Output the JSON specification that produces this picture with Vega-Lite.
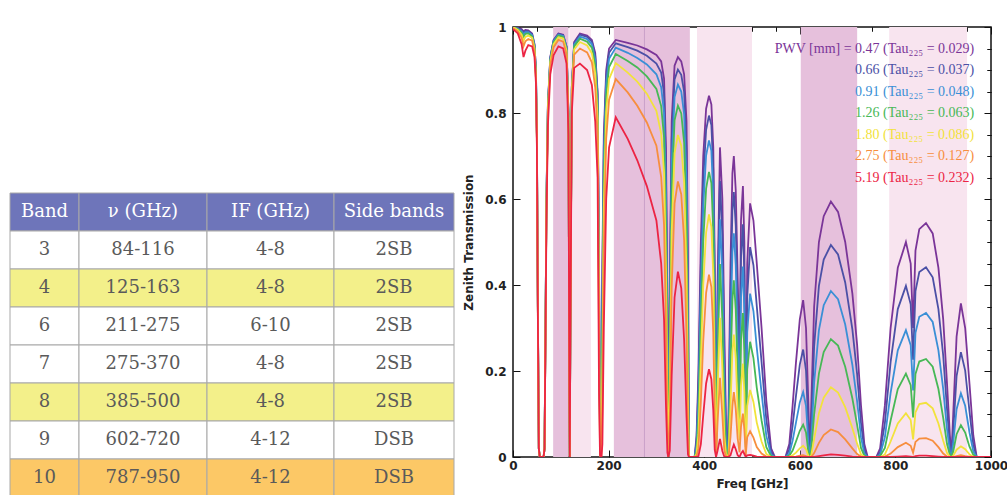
{
"$schema": "https://vega.github.io/schema/vega-lite/v6.json",
"background": "white",
"padding": {"left": 9, "top": 20, "right": 0, "bottom": 0},
"config": {"view": {"stroke": null}},
"resolve": {"scale": {"fill": "independent", "color": "independent"}},
"datasets": {
"table": [
{"row":"h","c1":"Band","c2":"ν  (GHz)","c3":"IF (GHz)","c4":"Side bands","kind":"head"},
{"row":"3","c1":"3","c2":"84-116","c3":"4-8","c4":"2SB","kind":"white"},
{"row":"4","c1":"4","c2":"125-163","c3":"4-8","c4":"2SB","kind":"yellow"},
{"row":"6","c1":"6","c2":"211-275","c3":"6-10","c4":"2SB","kind":"white"},
{"row":"7","c1":"7","c2":"275-370","c3":"4-8","c4":"2SB","kind":"white"},
{"row":"8","c1":"8","c2":"385-500","c3":"4-8","c4":"2SB","kind":"yellow"},
{"row":"9","c1":"9","c2":"602-720","c3":"4-12","c4":"DSB","kind":"white"},
{"row":"10","c1":"10","c2":"787-950","c3":"4-12","c4":"DSB","kind":"orange"}
],
"bands": [
{"a":84,"b":116,"k":"dark"},{"a":118,"b":163,"k":"light"},{"a":211,"b":275,"k":"dark"},{"a":275,"b":370,"k":"dark"},{"a":385,"b":500,"k":"light"},{"a":602,"b":720,"k":"dark"},{"a":787,"b":950,"k":"light"}
],
"legend": [
{"k":"a","label":"PWV [mm] = 0.47 (Tau₂₂₅ = 0.029)"},
{"k":"b","label":"0.66 (Tau₂₂₅ = 0.037)"},
{"k":"c","label":"0.91 (Tau₂₂₅ = 0.048)"},
{"k":"d","label":"1.26 (Tau₂₂₅ = 0.063)"},
{"k":"e","label":"1.80 (Tau₂₂₅ = 0.086)"},
{"k":"f","label":"2.75 (Tau₂₂₅ = 0.127)"},
{"k":"g","label":"5.19 (Tau₂₂₅ = 0.232)"}
],
"trans": [
{"v":0,"a":1,"b":1,"c":1,"d":1,"e":1,"f":0.998,"g":0.995},
{"v":10,"a":0.998,"b":0.997,"c":0.996,"d":0.995,"e":0.993,"f":0.99,"g":0.985},
{"v":18,"a":0.995,"b":0.993,"c":0.99,"d":0.987,"e":0.982,"f":0.975,"g":0.96},
{"v":22,"a":0.99,"b":0.987,"c":0.983,"d":0.977,"e":0.968,"f":0.955,"g":0.93},
{"v":26,"a":0.993,"b":0.991,"c":0.988,"d":0.984,"e":0.977,"f":0.967,"g":0.945},
{"v":32,"a":0.992,"b":0.99,"c":0.988,"d":0.985,"e":0.98,"f":0.972,"g":0.958},
{"v":40,"a":0.985,"b":0.983,"c":0.981,"d":0.978,"e":0.975,"f":0.968,"g":0.955},
{"v":45,"a":0.96,"b":0.958,"c":0.956,"d":0.953,"e":0.95,"f":0.943,"g":0.93},
{"v":48,"a":0.9,"b":0.9,"c":0.89,"d":0.89,"e":0.88,"f":0.88,"g":0.87},
{"v":50,"a":0.75,"b":0.75,"c":0.74,"d":0.74,"e":0.74,"f":0.73,"g":0.72},
{"v":52,"a":0.35,"b":0.35,"c":0.35,"d":0.34,"e":0.34,"f":0.34,"g":0.33},
{"v":54,"a":0.02,"b":0.02,"c":0.02,"d":0.02,"e":0.02,"f":0.02,"g":0.02},
{"v":56,"a":0,"b":0,"c":0,"d":0,"e":0,"f":0,"g":0},
{"v":64,"a":0,"b":0,"c":0,"d":0,"e":0,"f":0,"g":0},
{"v":66,"a":0.02,"b":0.02,"c":0.02,"d":0.02,"e":0.02,"f":0.02,"g":0.02},
{"v":68,"a":0.3,"b":0.3,"c":0.3,"d":0.3,"e":0.29,"f":0.29,"g":0.28},
{"v":70,"a":0.6,"b":0.598,"c":0.595,"d":0.591,"e":0.585,"f":0.575,"g":0.55},
{"v":73,"a":0.82,"b":0.818,"c":0.815,"d":0.811,"e":0.806,"f":0.795,"g":0.77},
{"v":78,"a":0.93,"b":0.928,"c":0.926,"d":0.923,"e":0.919,"f":0.91,"g":0.89},
{"v":85,"a":0.97,"b":0.969,"c":0.967,"d":0.964,"e":0.96,"f":0.953,"g":0.935},
{"v":95,"a":0.985,"b":0.984,"c":0.982,"d":0.98,"e":0.976,"f":0.97,"g":0.955},
{"v":105,"a":0.982,"b":0.981,"c":0.979,"d":0.977,"e":0.973,"f":0.966,"g":0.95},
{"v":112,"a":0.955,"b":0.954,"c":0.952,"d":0.949,"e":0.945,"f":0.937,"g":0.915},
{"v":116,"a":0.8,"b":0.799,"c":0.797,"d":0.794,"e":0.789,"f":0.78,"g":0.75},
{"v":118,"a":0.15,"b":0.15,"c":0.149,"d":0.148,"e":0.147,"f":0.145,"g":0.14},
{"v":118.75,"a":0,"b":0,"c":0,"d":0,"e":0,"f":0,"g":0},
{"v":120,"a":0.3,"b":0.3,"c":0.298,"d":0.297,"e":0.294,"f":0.29,"g":0.28},
{"v":123,"a":0.86,"b":0.859,"c":0.856,"d":0.853,"e":0.848,"f":0.838,"g":0.8},
{"v":128,"a":0.965,"b":0.962,"c":0.959,"d":0.955,"e":0.948,"f":0.936,"g":0.905},
{"v":140,"a":0.985,"b":0.982,"c":0.978,"d":0.973,"e":0.965,"f":0.95,"g":0.915},
{"v":155,"a":0.98,"b":0.977,"c":0.972,"d":0.966,"e":0.957,"f":0.941,"g":0.9},
{"v":165,"a":0.97,"b":0.966,"c":0.96,"d":0.952,"e":0.939,"f":0.918,"g":0.865},
{"v":172,"a":0.94,"b":0.933,"c":0.924,"d":0.911,"e":0.892,"f":0.859,"g":0.78},
{"v":177,"a":0.85,"b":0.841,"c":0.829,"d":0.813,"e":0.788,"f":0.747,"g":0.65},
{"v":180,"a":0.45,"b":0.431,"c":0.406,"d":0.374,"e":0.33,"f":0.265,"g":0.15},
{"v":182,"a":0.08,"b":0.066,"c":0.052,"d":0.038,"e":0.024,"f":0.012,"g":0.005},
{"v":183.3,"a":0,"b":0,"c":0,"d":0,"e":0,"f":0,"g":0},
{"v":185,"a":0.15,"b":0.11,"c":0.07,"d":0.04,"e":0.015,"f":0.003,"g":0},
{"v":187,"a":0.45,"b":0.404,"c":0.35,"d":0.286,"e":0.21,"f":0.122,"g":0.03},
{"v":190,"a":0.75,"b":0.723,"c":0.689,"d":0.644,"e":0.58,"f":0.482,"g":0.3},
{"v":195,"a":0.9,"b":0.886,"c":0.867,"d":0.841,"e":0.803,"f":0.74,"g":0.6},
{"v":201,"a":0.95,"b":0.94,"c":0.926,"d":0.907,"e":0.879,"f":0.831,"g":0.72},
{"v":215,"a":0.97,"b":0.962,"c":0.952,"d":0.937,"e":0.916,"f":0.879,"g":0.79},
{"v":240,"a":0.963,"b":0.953,"c":0.94,"d":0.921,"e":0.894,"f":0.848,"g":0.74},
{"v":260,"a":0.957,"b":0.945,"c":0.928,"d":0.906,"e":0.873,"f":0.817,"g":0.69},
{"v":280,"a":0.948,"b":0.933,"c":0.913,"d":0.885,"e":0.845,"f":0.778,"g":0.63},
{"v":300,"a":0.935,"b":0.915,"c":0.89,"d":0.856,"e":0.805,"f":0.724,"g":0.55},
{"v":310,"a":0.92,"b":0.894,"c":0.86,"d":0.816,"e":0.752,"f":0.651,"g":0.45},
{"v":316,"a":0.88,"b":0.845,"c":0.801,"d":0.743,"e":0.662,"f":0.539,"g":0.32},
{"v":320,"a":0.72,"b":0.67,"c":0.609,"d":0.533,"e":0.435,"f":0.303,"g":0.12},
{"v":323,"a":0.35,"b":0.303,"c":0.251,"d":0.193,"e":0.129,"f":0.063,"g":0.01},
{"v":325,"a":0,"b":0,"c":0,"d":0,"e":0,"f":0,"g":0},
{"v":328,"a":0.4,"b":0.35,"c":0.294,"d":0.23,"e":0.158,"f":0.081,"g":0.015},
{"v":332,"a":0.78,"b":0.737,"c":0.683,"d":0.615,"e":0.523,"f":0.394,"g":0.19},
{"v":338,"a":0.91,"b":0.878,"c":0.837,"d":0.783,"e":0.707,"f":0.59,"g":0.371},
{"v":345,"a":0.93,"b":0.901,"c":0.866,"d":0.817,"e":0.749,"f":0.641,"g":0.431},
{"v":352,"a":0.92,"b":0.889,"c":0.85,"d":0.799,"e":0.724,"f":0.611,"g":0.393},
{"v":358,"a":0.89,"b":0.849,"c":0.797,"d":0.731,"e":0.638,"f":0.504,"g":0.273},
{"v":363,"a":0.78,"b":0.716,"c":0.64,"d":0.547,"e":0.429,"f":0.279,"g":0.094},
{"v":366,"a":0.45,"b":0.379,"c":0.303,"d":0.221,"e":0.136,"f":0.058,"g":0.006},
{"v":368,"a":0,"b":0,"c":0,"d":0,"e":0,"f":0,"g":0},
{"v":380,"a":0,"b":0,"c":0,"d":0,"e":0,"f":0,"g":0},
{"v":384,"a":0.05,"b":0.038,"c":0.026,"d":0.015,"e":0.007,"f":0.002,"g":0},
{"v":388,"a":0.2,"b":0.165,"c":0.129,"d":0.091,"e":0.053,"f":0.02,"g":0.002},
{"v":393,"a":0.5,"b":0.446,"c":0.384,"d":0.312,"e":0.225,"f":0.128,"g":0.03},
{"v":398,"a":0.7,"b":0.646,"c":0.582,"d":0.502,"e":0.4,"f":0.269,"g":0.097},
{"v":404,"a":0.81,"b":0.761,"c":0.701,"d":0.624,"e":0.522,"f":0.382,"g":0.171},
{"v":410,"a":0.84,"b":0.794,"c":0.736,"d":0.663,"e":0.564,"f":0.424,"g":0.204},
{"v":415,"a":0.82,"b":0.772,"c":0.712,"d":0.637,"e":0.535,"f":0.395,"g":0.181},
{"v":419,"a":0.72,"b":0.667,"c":0.604,"d":0.525,"e":0.423,"f":0.289,"g":0.109},
{"v":422,"a":0.45,"b":0.394,"c":0.331,"d":0.259,"e":0.177,"f":0.091,"g":0.017},
{"v":424.8,"a":0,"b":0,"c":0,"d":0,"e":0,"f":0,"g":0},
{"v":428,"a":0.4,"b":0.35,"c":0.294,"d":0.23,"e":0.158,"f":0.081,"g":0.015},
{"v":433,"a":0.72,"b":0.642,"c":0.553,"d":0.449,"e":0.324,"f":0.184,"g":0.042},
{"v":438,"a":0.6,"b":0.515,"c":0.422,"d":0.319,"e":0.207,"f":0.097,"g":0.014},
{"v":442,"a":0.3,"b":0.234,"c":0.169,"d":0.107,"e":0.053,"f":0.016,"g":0.001},
{"v":446,"a":0.05,"b":0.028,"c":0.013,"d":0.005,"e":0.001,"f":0,"g":0},
{"v":448,"a":0,"b":0,"c":0,"d":0,"e":0,"f":0,"g":0},
{"v":451,"a":0.1,"b":0.068,"c":0.042,"d":0.021,"e":0.007,"f":0.001,"g":0},
{"v":455,"a":0.45,"b":0.372,"c":0.29,"d":0.204,"e":0.119,"f":0.046,"g":0.004},
{"v":459,"a":0.66,"b":0.572,"c":0.475,"d":0.365,"e":0.244,"f":0.119,"g":0.019},
{"v":462,"a":0.7,"b":0.616,"c":0.52,"d":0.411,"e":0.285,"f":0.151,"g":0.029},
{"v":466,"a":0.62,"b":0.538,"c":0.446,"d":0.343,"e":0.229,"f":0.112,"g":0.018},
{"v":470,"a":0.42,"b":0.347,"c":0.27,"d":0.191,"e":0.111,"f":0.043,"g":0.004},
{"v":474,"a":0.22,"b":0.172,"c":0.124,"d":0.079,"e":0.039,"f":0.011,"g":0},
{"v":477,"a":0.55,"b":0.464,"c":0.37,"d":0.27,"e":0.166,"f":0.07,"g":0.008},
{"v":481,"a":0.63,"b":0.541,"c":0.443,"d":0.335,"e":0.217,"f":0.101,"g":0.014},
{"v":484,"a":0.5,"b":0.422,"c":0.337,"d":0.246,"e":0.151,"f":0.064,"g":0.007},
{"v":487,"a":0.05,"b":0.041,"c":0.032,"d":0.023,"e":0.013,"f":0.005,"g":0},
{"v":490,"a":0.45,"b":0.372,"c":0.29,"d":0.204,"e":0.119,"f":0.046,"g":0.004},
{"v":496,"a":0.59,"b":0.488,"c":0.38,"d":0.268,"e":0.156,"f":0.06,"g":0.005},
{"v":503,"a":0.55,"b":0.446,"c":0.339,"d":0.23,"e":0.128,"f":0.045,"g":0.003},
{"v":510,"a":0.45,"b":0.351,"c":0.254,"d":0.161,"e":0.08,"f":0.023,"g":0.001},
{"v":520,"a":0.3,"b":0.221,"c":0.149,"d":0.085,"e":0.036,"f":0.008,"g":0},
{"v":530,"a":0.13,"b":0.086,"c":0.049,"d":0.023,"e":0.007,"f":0.001,"g":0},
{"v":540,"a":0.02,"b":0.011,"c":0.005,"d":0.002,"e":0,"f":0,"g":0},
{"v":548,"a":0,"b":0,"c":0,"d":0,"e":0,"f":0,"g":0},
{"v":570,"a":0,"b":0,"c":0,"d":0,"e":0,"f":0,"g":0},
{"v":578,"a":0.03,"b":0.017,"c":0.008,"d":0.003,"e":0.001,"f":0,"g":0},
{"v":585,"a":0.12,"b":0.073,"c":0.038,"d":0.015,"e":0.004,"f":0,"g":0},
{"v":592,"a":0.22,"b":0.142,"c":0.08,"d":0.036,"e":0.01,"f":0.001,"g":0},
{"v":600,"a":0.32,"b":0.215,"c":0.127,"d":0.061,"e":0.02,"f":0.003,"g":0},
{"v":607,"a":0.365,"b":0.25,"c":0.151,"d":0.075,"e":0.026,"f":0.004,"g":0},
{"v":613,"a":0.3,"b":0.201,"c":0.119,"d":0.057,"e":0.018,"f":0.002,"g":0},
{"v":618,"a":0.12,"b":0.068,"c":0.032,"d":0.011,"e":0.002,"f":0,"g":0},
{"v":621,"a":0,"b":0,"c":0,"d":0,"e":0,"f":0,"g":0},
{"v":624,"a":0.12,"b":0.075,"c":0.04,"d":0.017,"e":0.004,"f":0,"g":0},
{"v":630,"a":0.35,"b":0.258,"c":0.173,"d":0.099,"e":0.042,"f":0.009,"g":0},
{"v":640,"a":0.5,"b":0.398,"c":0.295,"d":0.194,"e":0.102,"f":0.033,"g":0.002},
{"v":650,"a":0.56,"b":0.459,"c":0.353,"d":0.244,"e":0.138,"f":0.051,"g":0.004},
{"v":665,"a":0.594,"b":0.493,"c":0.386,"d":0.274,"e":0.162,"f":0.064,"g":0.006},
{"v":680,"a":0.57,"b":0.471,"c":0.367,"d":0.259,"e":0.15,"f":0.058,"g":0.005},
{"v":695,"a":0.5,"b":0.406,"c":0.308,"d":0.21,"e":0.116,"f":0.041,"g":0.003},
{"v":710,"a":0.38,"b":0.297,"c":0.214,"d":0.136,"e":0.067,"f":0.02,"g":0.001},
{"v":720,"a":0.26,"b":0.192,"c":0.129,"d":0.074,"e":0.031,"f":0.007,"g":0},
{"v":728,"a":0.12,"b":0.079,"c":0.046,"d":0.021,"e":0.006,"f":0.001,"g":0},
{"v":735,"a":0.03,"b":0.017,"c":0.008,"d":0.003,"e":0.001,"f":0,"g":0},
{"v":742,"a":0,"b":0,"c":0,"d":0,"e":0,"f":0,"g":0},
{"v":760,"a":0,"b":0,"c":0,"d":0,"e":0,"f":0,"g":0},
{"v":768,"a":0.02,"b":0.011,"c":0.005,"d":0.002,"e":0,"f":0,"g":0},
{"v":778,"a":0.12,"b":0.079,"c":0.046,"d":0.021,"e":0.006,"f":0.001,"g":0},
{"v":790,"a":0.3,"b":0.221,"c":0.149,"d":0.085,"e":0.036,"f":0.008,"g":0},
{"v":805,"a":0.44,"b":0.344,"c":0.248,"d":0.158,"e":0.078,"f":0.023,"g":0.001},
{"v":822,"a":0.5,"b":0.398,"c":0.295,"d":0.194,"e":0.102,"f":0.033,"g":0.002},
{"v":832,"a":0.45,"b":0.355,"c":0.26,"d":0.167,"e":0.086,"f":0.026,"g":0.001},
{"v":837,"a":0.3,"b":0.226,"c":0.155,"d":0.092,"e":0.041,"f":0.01,"g":0},
{"v":842,"a":0.48,"b":0.386,"c":0.289,"d":0.193,"e":0.104,"f":0.035,"g":0.002},
{"v":850,"a":0.53,"b":0.43,"c":0.326,"d":0.222,"e":0.123,"f":0.043,"g":0.003},
{"v":864,"a":0.544,"b":0.441,"c":0.335,"d":0.228,"e":0.126,"f":0.044,"g":0.003},
{"v":878,"a":0.52,"b":0.418,"c":0.314,"d":0.21,"e":0.113,"f":0.038,"g":0.002},
{"v":890,"a":0.44,"b":0.344,"c":0.248,"d":0.158,"e":0.078,"f":0.023,"g":0.001},
{"v":900,"a":0.32,"b":0.236,"c":0.158,"d":0.091,"e":0.038,"f":0.008,"g":0},
{"v":908,"a":0.17,"b":0.112,"c":0.065,"d":0.03,"e":0.009,"f":0.001,"g":0},
{"v":914,"a":0.05,"b":0.028,"c":0.013,"d":0.005,"e":0.001,"f":0,"g":0},
{"v":917,"a":0,"b":0,"c":0,"d":0,"e":0,"f":0,"g":0},
{"v":921,"a":0.1,"b":0.061,"c":0.032,"d":0.013,"e":0.003,"f":0,"g":0},
{"v":928,"a":0.28,"b":0.188,"c":0.111,"d":0.053,"e":0.017,"f":0.002,"g":0},
{"v":937,"a":0.357,"b":0.244,"c":0.148,"d":0.074,"e":0.025,"f":0.004,"g":0},
{"v":946,"a":0.3,"b":0.201,"c":0.119,"d":0.057,"e":0.018,"f":0.002,"g":0},
{"v":955,"a":0.17,"b":0.106,"c":0.057,"d":0.024,"e":0.006,"f":0.001,"g":0},
{"v":963,"a":0.05,"b":0.028,"c":0.013,"d":0.005,"e":0.001,"f":0,"g":0},
{"v":970,"a":0,"b":0,"c":0,"d":0,"e":0,"f":0,"g":0},
{"v":1000,"a":0,"b":0,"c":0,"d":0,"e":0,"f":0,"g":0}
]
},
"spacing": 6,
"hconcat": [
{
"spacing": 0,
"bounds": "flush",
"resolve": {"scale": {"fill": "shared"}},
"hconcat": [
{"width": 69, "height": 470, "data": {"name": "table"},
 "layer": [
  {"mark": {"type": "rect", "stroke": "#a8a8a8", "strokeWidth": 1},
   "encoding": {"y": {"field": "row", "type": "nominal", "scale": {"domain": ["h","3","4","6","7","8","9","10"], "range": [166, 470], "paddingInner": 0, "paddingOuter": 0}, "axis": null},
    "x": {"value": 0}, "x2": {"value": "width"},
    "fill": {"field": "kind", "type": "nominal", "scale": {"domain": ["head","white","yellow","orange"], "range": ["#6e75ba","#ffffff","#f3f08a","#fcc866"]}, "legend": null}}},
  {"mark": {"type": "text", "font": "DejaVu Serif", "fontSize": 18, "baseline": "middle"},
   "encoding": {"y": {"field": "row", "type": "nominal", "axis": null}, "text": {"field": "c1"},
    "color": {"condition": {"test": "datum.kind === 'head'", "value": "#ffffff"}, "value": "#5a5a5a"}}}
 ]},
{"width": 128, "height": 470, "data": {"name": "table"},
 "layer": [
  {"mark": {"type": "rect", "stroke": "#a8a8a8", "strokeWidth": 1},
   "encoding": {"y": {"field": "row", "type": "nominal", "scale": {"domain": ["h","3","4","6","7","8","9","10"], "range": [166, 470], "paddingInner": 0, "paddingOuter": 0}, "axis": null},
    "x": {"value": 0}, "x2": {"value": "width"},
    "fill": {"field": "kind", "type": "nominal", "scale": {"domain": ["head","white","yellow","orange"], "range": ["#6e75ba","#ffffff","#f3f08a","#fcc866"]}, "legend": null}}},
  {"mark": {"type": "text", "font": "DejaVu Serif", "fontSize": 18, "baseline": "middle"},
   "encoding": {"y": {"field": "row", "type": "nominal", "axis": null}, "text": {"field": "c2"},
    "color": {"condition": {"test": "datum.kind === 'head'", "value": "#ffffff"}, "value": "#5a5a5a"}}}
 ]},
{"width": 127, "height": 470, "data": {"name": "table"},
 "layer": [
  {"mark": {"type": "rect", "stroke": "#a8a8a8", "strokeWidth": 1},
   "encoding": {"y": {"field": "row", "type": "nominal", "scale": {"domain": ["h","3","4","6","7","8","9","10"], "range": [166, 470], "paddingInner": 0, "paddingOuter": 0}, "axis": null},
    "x": {"value": 0}, "x2": {"value": "width"},
    "fill": {"field": "kind", "type": "nominal", "scale": {"domain": ["head","white","yellow","orange"], "range": ["#6e75ba","#ffffff","#f3f08a","#fcc866"]}, "legend": null}}},
  {"mark": {"type": "text", "font": "DejaVu Serif", "fontSize": 18, "baseline": "middle"},
   "encoding": {"y": {"field": "row", "type": "nominal", "axis": null}, "text": {"field": "c3"},
    "color": {"condition": {"test": "datum.kind === 'head'", "value": "#ffffff"}, "value": "#5a5a5a"}}}
 ]},
{"width": 120, "height": 470, "data": {"name": "table"},
 "layer": [
  {"mark": {"type": "rect", "stroke": "#a8a8a8", "strokeWidth": 1},
   "encoding": {"y": {"field": "row", "type": "nominal", "scale": {"domain": ["h","3","4","6","7","8","9","10"], "range": [166, 470], "paddingInner": 0, "paddingOuter": 0}, "axis": null},
    "x": {"value": 0}, "x2": {"value": "width"},
    "fill": {"field": "kind", "type": "nominal", "scale": {"domain": ["head","white","yellow","orange"], "range": ["#6e75ba","#ffffff","#f3f08a","#fcc866"]}, "legend": null}}},
  {"mark": {"type": "text", "font": "DejaVu Serif", "fontSize": 18, "baseline": "middle"},
   "encoding": {"y": {"field": "row", "type": "nominal", "axis": null}, "text": {"field": "c4"},
    "color": {"condition": {"test": "datum.kind === 'head'", "value": "#ffffff"}, "value": "#5a5a5a"}}}
 ]}
]
},
{
"width": 478,
"height": 430,
"view": {"stroke": "#111111", "strokeWidth": 1.5},
"resolve": {"scale": {"y": "independent"}, "axis": {"x": "independent", "y": "independent"}},
"layer": [
 {"data": {"name": "bands"}, "mark": {"type": "rect"},
  "encoding": {"x": {"field": "a", "type": "quantitative", "scale": {"domain": [0, 1000], "nice": false}, "axis": null},
   "x2": {"field": "b"}, "y": {"value": 0}, "y2": {"value": "height"},
   "fill": {"field": "k", "type": "nominal", "scale": {"domain": ["dark","light"], "range": ["#e6c0dc","#f8e4ef"]}, "legend": null}}},
 {"data": {"values": [{}]}, "mark": {"type": "rule", "color": "#c9a0c8", "strokeWidth": 1},
  "encoding": {"x": {"datum": 275, "type": "quantitative", "scale": {"domain": [0, 1000], "nice": false}, "axis": null}, "y": {"value": 0}, "y2": {"value": "height"}}},
 {"data": {"name": "trans"}, "transform": [{"fold": ["a","b","c","d","e","f","g"], "as": ["k","t"]}],
  "mark": {"type": "line", "strokeWidth": 1.8, "clip": true},
  "encoding": {
   "x": {"field": "v", "type": "quantitative", "scale": {"domain": [0, 1000], "nice": false},
    "axis": {"values": [0,200,400,600,800,1000], "format": "d", "tickSize": -7, "labelPadding": 10, "tickColor": "#111", "tickWidth": 1, "domain": false, "grid": false, "labelFlush": false, "labelFont": "DejaVu Sans", "labelFontWeight": "bold", "labelFontSize": 12, "labelColor": "#222", "title": "Freq [GHz]", "titleFont": "DejaVu Sans", "titleFontWeight": "bold", "titleFontSize": 12, "titleColor": "#222", "titlePadding": 7}},
   "y": {"field": "t", "type": "quantitative", "scale": {"domain": [0, 1], "nice": false},
    "axis": {"values": [0,0.2,0.4,0.6,0.8,1], "format": "~g", "tickSize": -7, "labelPadding": 14, "tickColor": "#111", "tickWidth": 1, "domain": false, "grid": false, "labelFont": "DejaVu Sans", "labelFontWeight": "bold", "labelFontSize": 12, "labelColor": "#222", "title": "Zenith Transmission", "titleFont": "DejaVu Sans", "titleFontWeight": "bold", "titleFontSize": 12, "titleColor": "#222", "titlePadding": 9}},
   "color": {"field": "k", "type": "nominal", "scale": {"domain": ["a","b","c","d","e","f","g"], "range": ["#7a3598","#4b50a6","#3a8fd6","#47b856","#f2e23c","#f78e3e","#ec2444"]}, "legend": null}}},
 {"data": {"name": "legend"}, "mark": {"type": "text", "align": "right", "baseline": "middle", "font": "Liberation Serif", "fontSize": 14},
  "encoding": {"x": {"datum": 965, "type": "quantitative", "scale": {"domain": [0, 1000], "nice": false}, "axis": null},
   "y": {"field": "k", "type": "ordinal", "scale": {"type": "point", "domain": ["a","b","c","d","e","f","g"], "range": [21.5, 150.5], "padding": 0}, "axis": null},
   "text": {"field": "label"},
   "color": {"field": "k", "type": "nominal", "legend": null}}},
 {"data": {"values": [{}]}, "mark": {"type": "point", "opacity": 0},
  "encoding": {
   "x": {"datum": 0, "type": "quantitative", "scale": {"domain": [0, 1000], "nice": false},
    "axis": {"values": [50,100,150,250,300,350,450,500,550,650,700,750,850,900,950], "tickSize": -4, "tickColor": "#111", "labels": false, "domain": false, "grid": false, "title": null}},
   "y": {"datum": 0, "type": "quantitative", "scale": {"domain": [0, 1], "nice": false},
    "axis": {"values": [0.05,0.1,0.15,0.25,0.3,0.35,0.45,0.5,0.55,0.65,0.7,0.75,0.85,0.9,0.95], "tickSize": -4, "tickColor": "#111", "labels": false, "domain": false, "grid": false, "title": null}}}},
 {"data": {"values": [{}]}, "mark": {"type": "point", "opacity": 0},
  "encoding": {
   "x": {"datum": 0, "type": "quantitative", "scale": {"domain": [0, 1000], "nice": false},
    "axis": {"orient": "top", "values": [0,200,400,600,800,1000], "tickSize": -7, "tickColor": "#111", "labels": false, "domain": false, "grid": false, "title": null}},
   "y": {"datum": 0, "type": "quantitative", "scale": {"domain": [0, 1], "nice": false},
    "axis": {"orient": "right", "values": [0,0.2,0.4,0.6,0.8,1], "tickSize": -7, "tickColor": "#111", "labels": false, "domain": false, "grid": false, "title": null}}}},
 {"data": {"values": [{}]}, "mark": {"type": "point", "opacity": 0},
  "encoding": {
   "x": {"datum": 0, "type": "quantitative", "scale": {"domain": [0, 1000], "nice": false},
    "axis": {"orient": "top", "values": [50,100,150,250,300,350,450,500,550,650,700,750,850,900,950], "tickSize": -4, "tickColor": "#111", "labels": false, "domain": false, "grid": false, "title": null}},
   "y": {"datum": 0, "type": "quantitative", "scale": {"domain": [0, 1], "nice": false},
    "axis": {"orient": "right", "values": [0.05,0.1,0.15,0.25,0.3,0.35,0.45,0.5,0.55,0.65,0.7,0.75,0.85,0.9,0.95], "tickSize": -4, "tickColor": "#111", "labels": false, "domain": false, "grid": false, "title": null}}}}
]
}
]
}
